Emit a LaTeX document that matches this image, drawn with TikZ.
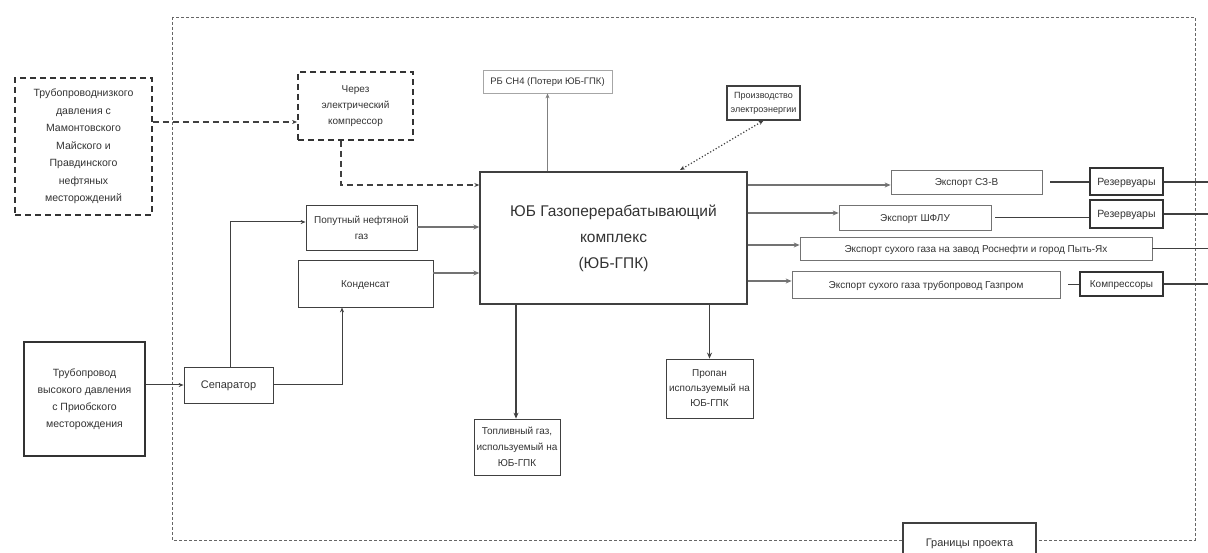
\documentclass[tikz,border=0pt]{standalone}
\usepackage{fontspec}
\setmainfont{Liberation Sans}
\usetikzlibrary{arrows.meta}
\begin{document}
\begin{tikzpicture}[x=1pt,y=-1pt,
  box/.style={draw=black!75, line width=0.8pt, fill=white, align=center, inner sep=1pt,
    font=\fontsize{10}{16}\selectfont, text=black!80},
  one/.style={font=\fontsize{#1}{12}\selectfont, text height=0.72*#1 pt, text depth=0pt},
  lightbox/.style={box, draw=black!35},
  thickbox/.style={box, line width=1.6pt, draw=black!80},
  dbox/.style={box, line width=1.8pt, dash pattern=on 6pt off 4pt, draw=black!80},
  ln/.style={draw=black!75, line width=1pt},
  arr/.style={ln, -{Stealth[length=5pt,width=4pt]}},
  garr/.style={draw=black!55, line width=1.6pt, -{Stealth[length=6pt,width=5pt]}},
  darr/.style={ln, line width=1.4pt, dash pattern=on 6pt off 4pt, -{Stealth[length=5pt,width=4pt]}}
]
\useasboundingbox (0,0) rectangle (1208,553);
\fill[white] (0,0) rectangle (1208,553);
% project boundary
\draw[black!60, line width=0.8pt, dash pattern=on 3pt off 2pt] (172,17) rectangle (1195,540);

\node[dbox, minimum width=137pt, minimum height=137pt, font=\fontsize{10.5}{17.5}\selectfont] (lp) at (83.5,146.5)
  {Трубопроводнизкого\\давления с\\Мамонтовского\\Майского и\\Правдинского\\нефтяных\\месторождений};
\node[dbox, minimum width=115pt, minimum height=68pt] (ec) at (355.5,106)
  {Через\\электрический\\компрессор};
\node[lightbox, minimum width=129pt, minimum height=23pt, one=9.5] (rb) at (547.5,81.5)
  {РБ СН4 (Потери ЮБ-ГПК)};
\node[box, line width=1.2pt, minimum width=73pt, minimum height=34pt, font=\fontsize{9}{14}\selectfont] (pe) at (763.5,103)
  {Производство\\электроэнергии};
\node[box, line width=1.4pt, minimum width=267pt, minimum height=132pt,
  font=\fontsize{15.5}{26}\selectfont] (gpk) at (613.5,238)
  {ЮБ Газоперерабатывающий\\комплекс\\(ЮБ-ГПК)};
\node[box, minimum width=111pt, minimum height=45pt] (png) at (361.5,227.5)
  {Попутный нефтяной\\газ};
\node[box, minimum width=135pt, minimum height=47pt, one=10] (kd) at (365.5,283.5) {Конденсат};
\node[box, minimum width=89pt, minimum height=36pt, one=11] (sp) at (228.5,385) {Сепаратор};
\node[thickbox, minimum width=121pt, minimum height=114pt, font=\fontsize{10.5}{17}\selectfont] (hp) at (84.5,399)
  {Трубопровод\\высокого давления\\с Приобского\\месторождения};
\node[box, minimum width=86pt, minimum height=56pt] (tg) at (517,447)
  {Топливный газ,\\используемый на\\ЮБ-ГПК};
\node[box, minimum width=87pt, minimum height=59pt, font=\fontsize{10}{15}\selectfont] (pr) at (709.5,388.5)
  {Пропан\\используемый на\\ЮБ-ГПК};
\node[lightbox, draw=black!55, minimum width=151pt, minimum height=24pt, one=10] (e1) at (966.5,182) {Экспорт СЗ-В};
\node[lightbox, draw=black!55, minimum width=152pt, minimum height=25pt, one=10] (e2) at (915,217.5) {Экспорт ШФЛУ};
\node[lightbox, draw=black!55, minimum width=352pt, minimum height=23pt, one=10] (e3) at (976,248.5)
  {Экспорт сухого газа на завод Роснефти и город Пыть-Ях};
\node[lightbox, draw=black!55, minimum width=268pt, minimum height=27pt, one=10] (e4) at (926,284.5)
  {Экспорт сухого газа трубопровод Газпром};
\node[thickbox, minimum width=73pt, minimum height=27pt, one=10.5] (r1) at (1126.5,181.5) {Резервуары};
\node[thickbox, minimum width=73pt, minimum height=28pt, one=10.5] (r2) at (1126.5,214) {Резервуары};
\node[thickbox, minimum width=83pt, minimum height=24pt, one=10] (cm) at (1121.5,284) {Компрессоры};
\node[box, line width=1.2pt, minimum width=133pt, minimum height=40pt, one=11] (gr) at (969.5,543) {Границы проекта};

\coordinate (o1) at (1208,182);
\coordinate (o2) at (1208,214);
\coordinate (o3) at (1208,248.5);
\coordinate (o4) at (1208,284);

% dashed feeds
\draw[darr] (lp.east |- 0,122) -- (ec.west |- 0,122);
\draw[darr] (ec.south -| 341,0) |- (gpk.west |- 0,185);
% separator flows
\draw[arr] (hp.east |- sp.west) -- (sp.west);
\draw[arr] (sp.north -| 230,0) |- (png.west |- 0,222);
\draw[arr] (sp.east) -| (kd.south -| 342,0);
% into GPK
\draw[garr] (png.east |- 0,227) -- (gpk.west |- 0,227);
\draw[garr] (kd.east |- 0,273) -- (gpk.west |- 0,273);
% out of GPK
\draw[draw=black!50, line width=1.4pt, -{Stealth[length=5pt,width=4pt]}] (gpk.north -| rb.south) -- (rb.south);
\draw[black!75, line width=1.2pt, dotted, {Stealth[length=5pt,width=4pt]}-{Stealth[length=5pt,width=4pt]}] (680,170) -- (pe.south);
\draw[ln, line width=1.6pt, -{Stealth[length=6pt,width=5pt]}] (gpk.south -| 516,0) -- (tg.north -| 516,0);
\draw[ln, line width=1.6pt, -{Stealth[length=6pt,width=5pt]}] (gpk.south -| pr.north) -- (pr.north);
\draw[garr] (gpk.east |- 0,185) -- (e1.west |- 0,185);
\draw[garr] (gpk.east |- 0,213) -- (e2.west |- 0,213);
\draw[garr] (gpk.east |- 0,245) -- (e3.west |- 0,245);
\draw[garr] (gpk.east |- 0,281) -- (e4.west |- 0,281);
% exports to storage / outside
\draw[ln, line width=1.4pt] (e1.east) ++(8,0) -- (r1.west |- e1.east);
\draw[ln, line width=1.4pt] (r1.east |- o1) -- (o1);
\draw[ln, line width=1.4pt] (e2.east) ++(4,0) -- (r2.west |- e2.east);
\draw[ln, line width=1.4pt] (r2.east |- o2) -- (o2);
\draw[ln, line width=1.4pt] (e3.east) -- (o3);
\draw[ln, line width=1.4pt] (e4.east) ++(8,0) -- (cm.west |- e4.east);
\draw[ln, line width=1.4pt] (cm.east |- o4) -- (o4);
\end{tikzpicture}
\end{document}
